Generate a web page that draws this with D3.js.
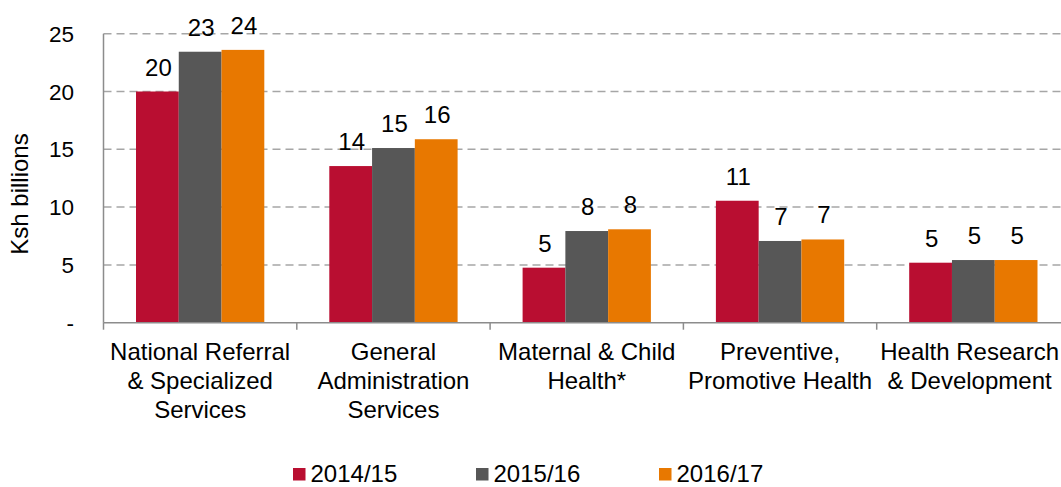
<!DOCTYPE html>
<html>
<head>
<meta charset="utf-8">
<script src="https://cdn.jsdelivr.net/npm/d3@7"></script>
<style>
  body { margin: 0; background: #fff; }
  svg text { font-family: "Liberation Sans", Arial, sans-serif; fill: #000; }
</style>
</head>
<body>
<div id="plot"></div>
<script>
// chart data
var categories = [
  ["National Referral", "& Specialized", "Services"],
  ["General", "Administration", "Services"],
  ["Maternal & Child", "Health*"],
  ["Preventive,", "Promotive Health"],
  ["Health Research", "& Development"]
];
var seriesNames = ["2014/15", "2015/16", "2016/17"];
var values2014 = [20.0, 13.55, 4.76, 10.55, 5.19];
var values2015 = [23.44, 15.11, 7.93, 7.07, 5.42];
var values2016 = [23.6, 15.87, 8.08, 7.2, 5.42];
var yTicks = [0, 5, 10, 15, 20, 25];

var colors = ["#B90E31", "#575757", "#E87800"];
var allValues = [values2014, values2015, values2016];

// svg size
var svgWidth = 1061;
var svgHeight = 487;

var svg = d3.select("#plot")
  .append("svg")
  .attr("width", svgWidth)
  .attr("height", svgHeight);

var x0 = 103.5, xEnd = 1070;
var yBase = 322.7, yTop = 33.7;

// scales
var xBand = d3.scaleBand()
  .domain(d3.range(categories.length))
  .range([x0, xEnd]);

var xInner = d3.scaleBand()
  .domain(d3.range(seriesNames.length))
  .range([32.5, xBand.bandwidth() - 32.5]);

var yScale = d3.scaleLinear()
  .domain([0, 25])
  .range([yBase, yTop]);

// gridlines
svg.append("g")
  .selectAll("line")
  .data(yTicks.filter(d => d > 0))
  .enter()
  .append("line")
  .attr("x1", x0)
  .attr("x2", svgWidth)
  .attr("y1", d => yScale(d))
  .attr("y2", d => yScale(d))
  .attr("stroke", "#A6A6A6")
  .attr("stroke-width", 1.5)
  .attr("stroke-dasharray", "8,5");

// y tick labels
svg.append("g")
  .selectAll("text")
  .data(yTicks)
  .enter()
  .append("text")
  .attr("x", 74)
  .attr("y", d => yScale(d) + 8)
  .attr("text-anchor", "end")
  .style("font-size", "22.5px")
  .text(d => d === 0 ? "-" : d);

// y label
svg.append("text")
  .attr("transform", "translate(28, 194) rotate(-90)")
  .attr("text-anchor", "middle")
  .style("font-size", "24px")
  .text("Ksh billions");

// bars
var groups = svg.append("g")
  .selectAll("g")
  .data(categories)
  .enter()
  .append("g")
  .attr("transform", (d, i) => `translate(${xBand(i)}, 0)`);

groups.each(function(c, ci) {
  var g = d3.select(this);
  seriesNames.forEach(function(s, si) {
    var v = allValues[si][ci];
    g.append("rect")
      .attr("x", xInner(si))
      .attr("y", yScale(v))
      .attr("width", xInner.bandwidth())
      .attr("height", yBase - yScale(v))
      .attr("fill", colors[si]);
    g.append("text")
      .attr("x", xInner(si) + xInner.bandwidth() / 2 + 1)
      .attr("y", yScale(v) - 16)
      .attr("text-anchor", "middle")
      .style("font-size", "24px")
      .text(Math.round(v));
  });
});

// axes lines
svg.append("line")
  .attr("x1", x0).attr("x2", x0)
  .attr("y1", yTop).attr("y2", yBase)
  .attr("stroke", "#8C8C8C").attr("stroke-width", 1.5);

svg.append("line")
  .attr("x1", x0).attr("x2", svgWidth)
  .attr("y1", yBase).attr("y2", yBase)
  .attr("stroke", "#8C8C8C").attr("stroke-width", 1.5);

svg.append("g")
  .selectAll("line")
  .data(d3.range(categories.length + 1))
  .enter()
  .append("line")
  .attr("x1", i => x0 + i * xBand.bandwidth())
  .attr("x2", i => x0 + i * xBand.bandwidth())
  .attr("y1", yBase)
  .attr("y2", yBase + 7)
  .attr("stroke", "#8C8C8C").attr("stroke-width", 1.5);

// category labels
var catLabels = groups.append("text")
  .attr("text-anchor", "middle")
  .style("font-size", "24px");

catLabels.selectAll("tspan")
  .data(d => d)
  .enter()
  .append("tspan")
  .attr("x", xBand.bandwidth() / 2)
  .attr("y", (d, i) => 359.5 + i * 29)
  .text(d => d);

// keep the last label inside the picture
catLabels.each(function(d, i) {
  var box = this.getBBox();
  var right = xBand(i) + box.x + box.width;
  if (right > svgWidth - 2) {
    d3.select(this).attr("transform", `translate(${svgWidth - 2 - right}, 0)`);
  }
});

// legend
var legend = svg.append("g")
  .selectAll("g")
  .data(seriesNames)
  .enter()
  .append("g")
  .attr("transform", (d, i) => `translate(${293 + i * 183}, 468)`);

legend.append("rect")
  .attr("width", 12.5)
  .attr("height", 12.5)
  .attr("fill", (d, i) => colors[i]);

legend.append("text")
  .attr("x", 17.5)
  .attr("y", 14)
  .style("font-size", "24px")
  .text(d => d);
</script>
</body>
</html>
